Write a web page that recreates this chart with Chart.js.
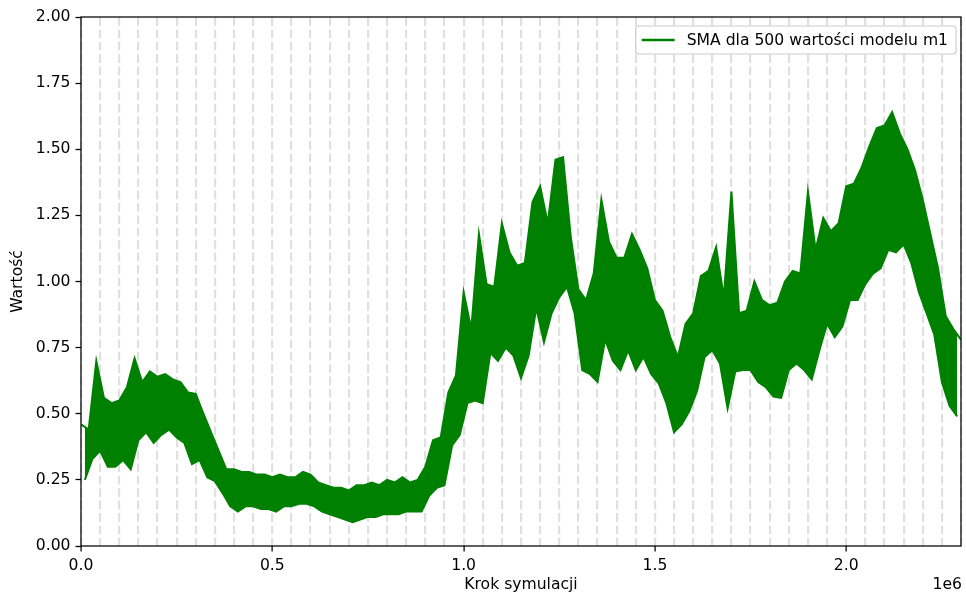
<!DOCTYPE html>
<html lang="pl">
<head>
<meta charset="utf-8">
<title>SMA dla 500 wartości modelu m1</title>
<script src="https://cdn.jsdelivr.net/npm/chart.js@4.4.1/dist/chart.umd.min.js"></script>
<style>
  html, body { margin: 0; padding: 0; background: #ffffff; }
  #c { display: block; }
</style>
</head>
<body>
<canvas id="c" width="966" height="594"></canvas>
<script>
// Moving average (window of 500) of model m1. The series swings so fast that
// it is drawn as the band between its local peaks and its local troughs.
const SAMPLE_EVERY = 10000;

// Local peaks, at steps 0, 20 000, 40 000, ...
const peaks = [
  0.46, 0.44, 0.70, 0.56, 0.54, 0.55, 0.60, 0.71, 0.62, 0.66,
  0.64, 0.65, 0.63, 0.62, 0.58, 0.575, 0.50, 0.43, 0.36, 0.29,
  0.29, 0.28, 0.28, 0.27, 0.27, 0.26, 0.27, 0.26, 0.26, 0.28,
  0.27, 0.24, 0.23, 0.22, 0.22, 0.21, 0.23, 0.23, 0.24, 0.23,
  0.25, 0.24, 0.26, 0.24, 0.25, 0.30, 0.40, 0.41, 0.58, 0.645,
  0.96, 0.82, 1.18, 0.99, 0.98, 1.22, 1.11, 1.06, 1.07, 1.30,
  1.36, 1.22, 1.46, 1.47, 1.17, 0.97, 0.93, 1.03, 1.31, 1.15,
  1.09, 1.09, 1.18, 1.12, 1.05, 0.93, 0.89, 0.79, 0.715, 0.84,
  0.88, 1.02, 1.04, 1.13, 0.94, 1.34, 0.88, 0.89, 1.00, 0.93,
  0.91, 0.92, 1.00, 1.04, 1.03, 1.34, 1.12, 1.24, 1.19, 1.22,
  1.36, 1.37, 1.43, 1.51, 1.58, 1.59, 1.64, 1.56, 1.50, 1.42,
  1.31, 1.18, 1.05, 0.87, 0.82, 0.78
];

// Local troughs, at steps 10 000, 30 000, 50 000, ...
const troughs = [
  0.25, 0.33, 0.36, 0.30, 0.30, 0.325, 0.29, 0.40, 0.43, 0.39,
  0.42, 0.44, 0.41, 0.39, 0.31, 0.325, 0.26, 0.245, 0.20, 0.15,
  0.13, 0.15, 0.15, 0.14, 0.14, 0.13, 0.15, 0.15, 0.16, 0.16,
  0.15, 0.13, 0.12, 0.11, 0.10, 0.09, 0.10, 0.11, 0.11, 0.12,
  0.12, 0.12, 0.13, 0.13, 0.13, 0.19, 0.22, 0.23, 0.38, 0.42,
  0.54, 0.55, 0.54, 0.73, 0.70, 0.75, 0.72, 0.635, 0.72, 0.90,
  0.77, 0.88, 0.94, 0.98, 0.88, 0.665, 0.65, 0.62, 0.78, 0.70,
  0.665, 0.74, 0.665, 0.715, 0.65, 0.615, 0.54, 0.43, 0.46, 0.51,
  0.585, 0.715, 0.74, 0.69, 0.52, 0.66, 0.665, 0.665, 0.62, 0.60,
  0.565, 0.56, 0.665, 0.69, 0.665, 0.63, 0.74, 0.84, 0.79, 0.83,
  0.93, 0.93, 0.99, 1.03, 1.05, 1.12, 1.11, 1.14, 1.07, 0.96,
  0.88, 0.80, 0.62, 0.53, 0.49
];

// Axis ranges and tick steps
const X_MAX = 2300000;
const X_LABEL_EVERY = 500000;   // labelled ticks
const X_GRID_EVERY = 50000;     // dashed vertical guides
const Y_MAX = 2.0;
const Y_STEP = 0.25;

const SERIES_LABEL = 'SMA dla 500 wartości modelu m1';
const X_TITLE = 'Krok symulacji';
const Y_TITLE = 'Wartość';
const X_OFFSET_TEXT = '1e6';

const GREEN = '#008000';

const peakPoints = peaks.map((y, i) => ({ x: 2 * i * SAMPLE_EVERY, y }));
const troughPoints = troughs.map((y, i) => ({ x: (2 * i + 1) * SAMPLE_EVERY, y }));

const FONT_FAMILY = 'DejaVu Sans';
const FONT_SIZE = 15.6;
const font = { family: FONT_FAMILY, size: FONT_SIZE, lineHeight: 1.2 };
const INK = '#000000';

// Box around the plotting area (all four sides)
const frame = {
  id: 'frame',
  afterDatasetsDraw(chart) {
    const { ctx, chartArea: a } = chart;
    ctx.save();
    ctx.strokeStyle = INK;
    ctx.lineWidth = 1.25;
    ctx.setLineDash([]);
    ctx.strokeRect(a.left, a.top, a.right - a.left, a.bottom - a.top);
    ctx.restore();
  }
};

// Legend in the upper-right corner
const legendBox = {
  id: 'legendBox',
  afterDraw(chart) {
    const { ctx, chartArea: a } = chart;
    const ds = chart.data.datasets[0];
    ctx.save();
    ctx.font = `${FONT_SIZE}px "${FONT_FAMILY}"`;
    const textW = ctx.measureText(ds.label).width;
    const right = a.right - 5;
    const top = a.top + 9;
    const h = 28;
    const left = right - (51 + textW + 8);
    const r = 3;
    ctx.beginPath();
    ctx.moveTo(left + r, top);
    ctx.lineTo(right - r, top);
    ctx.arcTo(right, top, right, top + r, r);
    ctx.lineTo(right, top + h - r);
    ctx.arcTo(right, top + h, right - r, top + h, r);
    ctx.lineTo(left + r, top + h);
    ctx.arcTo(left, top + h, left, top + h - r, r);
    ctx.lineTo(left, top + r);
    ctx.arcTo(left, top, left + r, top, r);
    ctx.closePath();
    ctx.fillStyle = 'rgba(255,255,255,0.8)';
    ctx.fill();
    ctx.strokeStyle = '#cccccc';
    ctx.lineWidth = 1.1;
    ctx.stroke();
    const cy = top + h / 2;
    ctx.beginPath();
    ctx.moveTo(left + 6, cy);
    ctx.lineTo(left + 39, cy);
    ctx.strokeStyle = ds.borderColor;
    ctx.lineWidth = 2.3;
    ctx.stroke();
    ctx.fillStyle = INK;
    ctx.textAlign = 'left';
    ctx.textBaseline = 'middle';
    ctx.fillText(ds.label, left + 51, cy + 0.5);
    ctx.restore();
  }
};

// Scale multiplier shown under the right end of the x axis
const offsetText = {
  id: 'offsetText',
  afterDraw(chart) {
    const { ctx, chartArea: a } = chart;
    ctx.save();
    ctx.font = `${FONT_SIZE}px "${FONT_FAMILY}"`;
    ctx.fillStyle = INK;
    ctx.textAlign = 'right';
    ctx.textBaseline = 'middle';
    ctx.fillText(X_OFFSET_TEXT, a.right + 1, 585);
    ctx.restore();
  }
};

const isLabelled = (v) => Math.round(v) % X_LABEL_EVERY === 0;

new Chart(document.getElementById('c'), {
  type: 'line',
  data: {
    datasets: [
      {
        label: SERIES_LABEL,
        data: peakPoints,
        borderColor: GREEN,
        backgroundColor: GREEN,
        borderWidth: 2,
        pointRadius: 0,
        tension: 0,
        fill: false
      },
      {
        label: SERIES_LABEL + ' (minima)',
        data: troughPoints,
        borderColor: GREEN,
        backgroundColor: GREEN,
        borderWidth: 2,
        pointRadius: 0,
        tension: 0,
        fill: '-1'
      }
    ]
  },
  options: {
    responsive: false,
    animation: false,
    devicePixelRatio: 1,
    layout: { padding: { top: 17, right: 2, left: 0, bottom: 0 } },
    plugins: {
      legend: { display: false },
      tooltip: { enabled: false },
      filler: { propagate: false }
    },
    scales: {
      x: {
        type: 'linear',
        min: 0,
        max: X_MAX,
        afterFit(scale) { scale.height = 48; },
        ticks: {
          stepSize: X_GRID_EVERY,
          autoSkip: false,
          maxTicksLimit: 1000,
          maxRotation: 0,
          minRotation: 0,
          padding: 5,
          color: INK,
          font,
          callback: (v) => isLabelled(v) ? (v / 1e6).toFixed(1) : ''
        },
        grid: {
          color: '#e0e0e0',
          lineWidth: 2.2,
          drawOnChartArea: true,
          drawTicks: true,
          tickLength: 5.5,
          tickWidth: 1.25,
          tickBorderDash: [],
          tickColor: (c) => (c.tick && isLabelled(c.tick.value)) ? INK : 'rgba(0,0,0,0)'
        },
        border: { display: false, dash: [8.7, 3.7] },
        title: {
          display: true,
          text: X_TITLE,
          color: INK,
          font,
          padding: { top: 0, bottom: 0 }
        }
      },
      y: {
        type: 'linear',
        min: 0,
        max: Y_MAX,
        afterFit(scale) { scale.width = 81; },
        ticks: {
          stepSize: Y_STEP,
          padding: 5,
          color: INK,
          font,
          callback: (v) => v.toFixed(2)
        },
        grid: {
          drawOnChartArea: false,
          drawTicks: true,
          tickLength: 5.5,
          tickWidth: 1.25,
          tickColor: INK
        },
        border: { display: false },
        title: {
          display: true,
          text: Y_TITLE,
          color: INK,
          font,
          padding: { top: 9, bottom: 0 }
        }
      }
    }
  },
  plugins: [frame, legendBox, offsetText]
});
</script>
</body>
</html>
